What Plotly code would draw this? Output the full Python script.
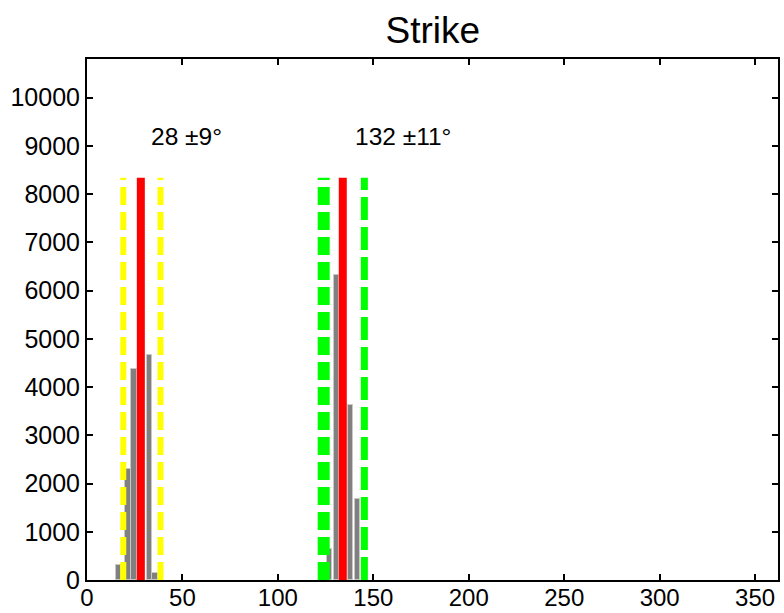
import plotly.graph_objects as go

# Histogram bars (strike in degrees, counts)
bar_centers = [16.4, 21.4, 24.6, 28.2, 32.7, 35.6, 126.9, 130.8, 134.3, 137.9, 141.6]
bar_counts = [310, 2300, 4380, 6400, 4670, 150, 640, 6330, 5800, 3620, 1680]

# Mean and +/- bounds for the two clusters
means = [28.2, 134.0]
lower_bounds = [19.0, 124.0]
upper_bounds = [38.5, 145.3]
bound_colors = ["#ffff00", "#00ff00"]
lower_widths = [6, 12]
upper_widths = [6, 7]
line_top = 8340

labels = ["28 \u00b19\u00b0", "132 \u00b111\u00b0"]
label_x = [52, 165.5]
label_y = 9190

x_ticks = [0, 50, 100, 150, 200, 250, 300, 350]
y_ticks = [0, 1000, 2000, 3000, 4000, 5000, 6000, 7000, 8000, 9000, 10000]
y_tick_text = [str(v) for v in y_ticks]

FONT = "Liberation Sans, Arial"

fig = go.Figure()
fig.add_trace(go.Bar(x=bar_centers, y=bar_counts, width=2.8,
                     marker=dict(color="#808080", line=dict(color="#c8c8c8", width=1)),
                     showlegend=False))

for i in range(2):
    fig.add_trace(go.Scatter(x=[lower_bounds[i]] * 2, y=[0, line_top], mode="lines",
                             line=dict(color=bound_colors[i], width=lower_widths[i], dash="18px,7px"),
                             showlegend=False))
    fig.add_trace(go.Scatter(x=[upper_bounds[i]] * 2, y=[0, line_top], mode="lines",
                             line=dict(color=bound_colors[i], width=upper_widths[i],
                                       dash="18px,7px" if i == 0 else "23px,7px"),
                             showlegend=False))
    fig.add_trace(go.Scatter(x=[means[i]] * 2, y=[0, line_top], mode="lines",
                             line=dict(color="#ff0000", width=8), showlegend=False))
    fig.add_annotation(x=label_x[i], y=label_y, text=labels[i], showarrow=False,
                       font=dict(size=24.5, color="black", family=FONT))

fig.update_layout(
    width=784, height=613,
    margin=dict(l=87, r=6, t=59, b=33),
    plot_bgcolor="white", paper_bgcolor="white",
    title=dict(text="Strike", x=0.552, xanchor="center", y=0.951, yanchor="middle",
               font=dict(size=37, color="black", family=FONT)),
    font=dict(family=FONT, size=25, color="black"),
    bargap=0,
)
fig.update_xaxes(range=[0, 362], tickvals=x_ticks, ticks="inside", ticklen=6, tickwidth=2,
                 tickcolor="black", showline=True, linewidth=2, linecolor="black",
                 mirror="ticks", showgrid=False, zeroline=False, automargin=False,
                 ticklabelstandoff=-5,
                 tickfont=dict(size=24, family=FONT, color="black"))
fig.update_yaxes(range=[0, 10800], tickvals=y_ticks, ticktext=y_tick_text, ticks="inside",
                 ticklen=6, tickwidth=2, tickcolor="black", showline=True, linewidth=2,
                 linecolor="black", mirror="ticks", showgrid=False, zeroline=False,
                 automargin=False, tickfont=dict(size=25, family=FONT, color="black"))

fig.write_html("out.html")
